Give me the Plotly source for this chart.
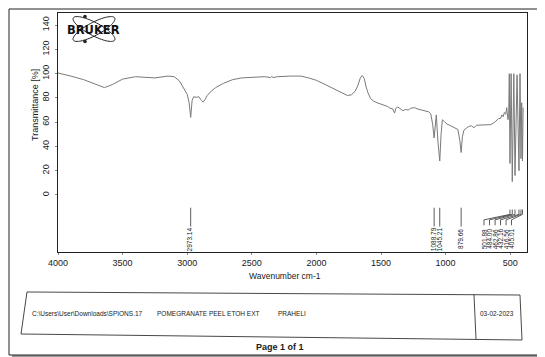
import numpy as np
import plotly.graph_objects as go

# ---------------- data ----------------
wavenumber = [4000, 3960, 3900, 3800, 3700, 3640, 3580, 3500, 3400, 3300, 3250, 3150, 3100,
              3060, 3030, 3000, 2985, 2973, 2962, 2950, 2930, 2910, 2890, 2876, 2860, 2845,
              2820, 2780, 2720, 2650, 2580, 2500, 2400, 2355, 2345, 2335, 2300, 2200, 2120,
              2060, 2000, 1950, 1900, 1850, 1800, 1760, 1730, 1700, 1680, 1660, 1645, 1630,
              1615, 1600, 1580, 1560, 1530, 1500, 1470, 1450, 1430, 1410, 1395, 1385, 1370,
              1350, 1330, 1310, 1290, 1270, 1240, 1220, 1200, 1170, 1150, 1130, 1115, 1100,
              1088.79, 1080, 1072, 1060, 1045.21, 1035, 1025, 1010, 990, 960, 930, 905, 890,
              879.66, 870, 858, 840, 820, 800, 780, 760, 740, 700, 650, 620, 590, 575, 565,
              555, 545, 535, 527, 518, 512, 507, 501.88, 493, 484.00, 472, 462.86, 447,
              432.16, 424, 416.56, 411, 405.01, 400]
transmittance = [100.5, 99.7, 98, 95, 91, 88.5, 91, 95.5, 97.5, 96.5, 96.5, 98, 97.5,
                 94, 89, 83, 76, 64, 78, 81, 80.5, 81, 78, 76.5, 79, 82,
                 85, 88.5, 92, 95, 96.5, 97, 97.5, 96.8, 97.8, 96.8, 97.5, 98, 98,
                 96.5, 94.5, 92, 89.5, 87, 84.5, 82, 82.5, 85.5, 90, 96.5, 98.5, 96,
                 89, 84, 79.5, 77.5, 76, 75, 73.5, 73, 71.5, 71, 67.5, 71.5, 72.5,
                 71, 69.5, 70.5, 70, 71.5, 72, 71, 70.5, 70, 69, 68.5, 67, 58,
                 47, 60, 66, 45, 28, 50, 62, 60.5, 58.5, 57, 55.5, 54, 45,
                 35, 48, 53.5, 55, 56.5, 57, 55.5, 57.5, 57.5, 57.5, 58, 60, 63, 63, 66,
                 64.5, 68, 66.5, 72, 62, 63, 100, 26, 100, 11, 100, 16, 99,
                 20, 100, 30, 76, 28, 72]

x_ticks = [4000, 3500, 3000, 2500, 2000, 1500, 1000, 500]
y_ticks = [0, 20, 40, 60, 80, 100, 120, 140]

peak_wn = [2973.14, 1088.79, 1045.21, 879.66, 501.88, 484.00, 462.86, 432.16, 416.56, 405.01]
peak_labels = ["2973.14", "1088.79", "1045.21", "879.66", "501.88", "484.00",
               "462.86", "432.16", "416.56", "405.01"]
# where the label text sits (fanned out for the crowded low-wavenumber group)
label_wn = [2985, 1098, 1050, 883, 703, 660, 617, 575, 532, 490]

footer_texts = ["C:\\Users\\User\\Downloads\\SPIONS.17", "POMEGRANATE PEEL ETOH EXT", "PRAHELI", "03-02-2023"]

# ---------------- geometry helpers ----------------
W, H = 545, 357
ML, MR, MT, MB = 50, 26, 5, 113
PW, PH = W - ML - MR, H - MT - MB
X_RANGE = [4000, 370]
Y_RANGE = [-47, 150]


def fx(px):
    return (px - ML) / PW


def fy(py):
    return (H - MB - py) / PH


FONT = "Liberation Sans, Arial, sans-serif"
INK = "#1a1a1a"

fig = go.Figure()

fig.add_trace(go.Scatter(
    x=wavenumber, y=transmittance, mode="lines",
    line=dict(color="#7a7a7a", width=1.0), hoverinfo="skip", showlegend=False))

# peak leader lines
lx, ly = [], []
for pw_, tw in zip(peak_wn, label_wn):
    if abs(pw_ - tw) > 20:
        lx += [pw_, pw_, tw, tw, None]
        ly += [-12, -16, -20.5, -25, None]
    else:
        lx += [pw_, pw_, None]
        ly += [-10.5, -26, None]
fig.add_trace(go.Scatter(x=lx, y=ly, mode="lines", line=dict(color="#333", width=0.8),
                         hoverinfo="skip", showlegend=False))

annotations = []
for tw, lab in zip(label_wn, peak_labels):
    annotations.append(dict(x=tw, y=-36.5, xref="x", yref="y", text=lab, textangle=-90,
                            showarrow=False, xanchor="center", yanchor="middle",
                            font=dict(family=FONT, size=6.5, color=INK)))

# y axis title
annotations.append(dict(x=fx(27), y=fy(97), xref="paper", yref="paper",
                        text="Transmittance [%]", textangle=-90, showarrow=False,
                        xanchor="center", yanchor="middle",
                        font=dict(family=FONT, size=9, color=INK)))
# x axis title
annotations.append(dict(x=fx(277), y=fy(268), xref="paper", yref="paper",
                        text="Wavenumber cm-1", showarrow=False,
                        xanchor="center", yanchor="middle",
                        font=dict(family=FONT, size=8.5, color=INK)))
# BRUKER logo text
annotations.append(dict(x=fx(85), y=fy(22), xref="paper", yref="paper",
                        text="<b>BRUKER</b>", showarrow=False,
                        xanchor="center", yanchor="middle",
                        font=dict(family="DejaVu Sans, sans-serif", size=11.5, color="#111")))
# footer
footer_x = [22, 147, 268, 470]
for t, x in zip(footer_texts, footer_x):
    annotations.append(dict(x=fx(x), y=fy(305), xref="paper", yref="paper", text=t,
                            showarrow=False, xanchor="left", yanchor="middle",
                            font=dict(family=FONT, size=6.5, color=INK)))
annotations.append(dict(x=fx(272), y=fy(339), xref="paper", yref="paper",
                        text="<b>Page 1 of 1</b>", showarrow=False,
                        xanchor="center", yanchor="middle",
                        font=dict(family=FONT, size=9, color=INK)))

shapes = []
# outer page border with shadow
shapes.append(dict(type="rect", xref="paper", yref="paper", x0=fx(4), x1=fx(543),
                   y0=fy(4), y1=fy(350), fillcolor="#9a9a9a", line=dict(width=0), layer="below"))
shapes.append(dict(type="rect", xref="paper", yref="paper", x0=fx(1), x1=fx(540),
                   y0=fy(1), y1=fy(347), fillcolor="white", line=dict(color="#222", width=1),
                   layer="below"))


def path_from(points):
    return "M " + " L ".join(f"{fx(a):.5f},{fy(b):.5f}" for a, b in points) + " Z"


# footer box
shapes.append(dict(type="path", xref="paper", yref="paper",
                   path=path_from([(19, 284), (512, 287), (514, 332), (13, 326)]),
                   line=dict(color="#333", width=0.9)))
shapes.append(dict(type="path", xref="paper", yref="paper",
                   path=f"M {fx(466):.5f},{fy(286.5):.5f} L {fx(468):.5f},{fy(331):.5f}",
                   line=dict(color="#333", width=0.9)))

# BRUKER orbit ellipses
t = np.linspace(0, 2 * np.pi, 72)
for ang in (28, -28):
    th = np.deg2rad(ang)
    a, b = 23.5, 6.5
    ex = 86 + a * np.cos(t) * np.cos(th) - b * np.sin(t) * np.sin(th)
    ey = 21 + a * np.cos(t) * np.sin(th) + b * np.sin(t) * np.cos(th)
    shapes.append(dict(type="path", xref="paper", yref="paper",
                       path=path_from(list(zip(ex, ey))),
                       line=dict(color="#222", width=1)))
for cx, cy in [(77, 8.5), (77, 33.5)]:
    shapes.append(dict(type="circle", xref="paper", yref="paper",
                       x0=fx(cx - 1.8), x1=fx(cx + 1.8), y0=fy(cy + 1.8), y1=fy(cy - 1.8),
                       fillcolor="#222", line=dict(width=0)))

fig.update_layout(
    template="none",
    width=W, height=H, margin=dict(l=ML, r=MR, t=MT, b=MB, autoexpand=False),
    paper_bgcolor="white", plot_bgcolor="rgba(0,0,0,0)",
    showlegend=False, annotations=annotations, shapes=shapes,
    xaxis=dict(range=X_RANGE, tickvals=x_ticks, ticktext=[str(v) for v in x_ticks],
               automargin=False,
               showgrid=False, zeroline=False, showline=True, mirror=True,
               linecolor="#222", linewidth=1, ticks="outside", ticklen=2,
               tickcolor="#888", tickfont=dict(family=FONT, size=9, color=INK)),
    yaxis=dict(range=Y_RANGE, tickvals=y_ticks, ticktext=[str(v) for v in y_ticks],
               automargin=False, ticklabelstandoff=2,
               showgrid=False, zeroline=False, showline=True, mirror=True,
               linecolor="#222", linewidth=1, ticks="outside", ticklen=2,
               tickcolor="#888", tickangle=-90,
               tickfont=dict(family=FONT, size=9, color=INK)),
)

fig.write_html("out.html")
